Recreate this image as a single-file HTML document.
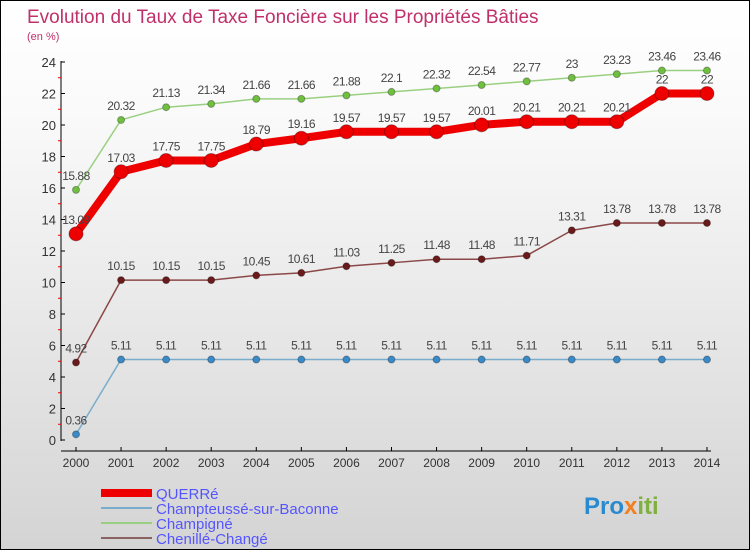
<!DOCTYPE html>
<html><head><meta charset="utf-8"><style>
body{margin:0}
#c{width:748px;height:548px;border:1px solid #000;background:linear-gradient(#fff,#fafafa 20%,#d4d4d4);position:relative;font-family:"Liberation Sans",sans-serif}
</style></head><body>
<div id="c">
<svg width="748" height="548" id="s" style="position:absolute;left:0;top:0">
<text x="26" y="22" font-size="19" fill="#c0306a">Evolution du Taux de Taxe Foncière sur les Propriétés Bâties</text>
<text x="26" y="39" font-size="11" fill="#c0306a">(en %)</text>
<g id="axes"></g><g id="series"></g>
<g font-size="15" fill="#5555ff">
<rect x="100" y="488" width="51" height="8" fill="#e00"/>
<text x="155" y="498">QUERRé</text>
<rect x="100" y="506" width="51" height="2" fill="#7aaccc"/>
<text x="155" y="513">Champteussé-sur-Baconne</text>
<rect x="100" y="521" width="51" height="2" fill="#99d080"/>
<text x="155" y="528">Champigné</text>
<rect x="100" y="536" width="51" height="2" fill="#8b6262"/>
<text x="155" y="543">Chenillé-Changé</text>
</g>
<text x="583" y="513" font-size="24" font-weight="bold"><tspan fill="#2a8ad0">Pro</tspan><tspan fill="#f08020">x</tspan><tspan fill="#80b040">iti</tspan></text>
</svg></div>
<script>
const years=[2000,2001,2002,2003,2004,2005,2006,2007,2008,2009,2010,2011,2012,2013,2014];
const querre=[13.09,17.03,17.75,17.75,18.79,19.16,19.57,19.57,19.57,20.01,20.21,20.21,20.21,22,22];
const champteusse=[0.36,5.11,5.11,5.11,5.11,5.11,5.11,5.11,5.11,5.11,5.11,5.11,5.11,5.11,5.11];
const champigne=[15.88,20.32,21.13,21.34,21.66,21.66,21.88,22.1,22.32,22.54,22.77,23,23.23,23.46,23.46];
const chenille=[4.92,10.15,10.15,10.15,10.45,10.61,11.03,11.25,11.48,11.48,11.71,13.31,13.78,13.78,13.78];
const yTicks=[0,2,4,6,8,10,12,14,16,18,20,22,24];
const NS="http://www.w3.org/2000/svg";
const X=i=>75+i*45.07, Y=v=>439-v*15.75;
function el(t,a,p){const e=document.createElementNS(NS,t);for(const k in a)e.setAttribute(k,a[k]);p.appendChild(e);return e;}
const ax=document.getElementById('axes');
const ya=el('line',{x1:60,y1:60,x2:60,y2:440,stroke:'#000'},ax);


const xa=el('line',{x1:60,y1:450,x2:710,y2:450,stroke:'#000'},ax);


yTicks.forEach(v=>{
 el('line',{x1:60,y1:Y(v),x2:64,y2:Y(v),stroke:'#000'},ax);
 if(v<24) el('line',{x1:57,y1:Y(v+1),x2:60,y2:Y(v+1),stroke:'#e00'},ax);
 const t=el('text',{x:55,y:Y(v)+5,'font-size':13,'text-anchor':'end',fill:'#333'},ax);
 t.textContent=v;
 
 
});
years.forEach((y,i)=>{
 el('line',{x1:X(i),y1:446,x2:X(i),y2:450,stroke:'#000'},ax);
 const t=el('text',{x:X(i),y:466,'font-size':12,'text-anchor':'middle',fill:'#333'},ax);
 t.textContent=y;
 
 
});
const sg=document.getElementById('series');
function draw(name,data,color,w,r,dot){
 const g=el('g',{},sg);
 
 
 const p=el('polyline',{points:data.map((v,i)=>X(i)+','+Y(v)).join(' '),fill:'none',stroke:color,'stroke-width':w,'stroke-linejoin':'round'},g);
 
 
 data.forEach((v,i)=>{
  const c=el('circle',{cx:X(i),cy:Y(v),r:r,fill:dot,stroke:'rgba(0,0,0,0.3)'},g);
  
  
  const t=el('text',{x:X(i),y:Y(v)-10,'font-size':12,'text-anchor':'middle',fill:'#444','letter-spacing':'-0.5'},g);
  t.textContent=v;
  
  
 });
}
draw('champteusse',champteusse,'#7aaccc',1.5,3.5,'#3a8ac8');
draw('chenille',chenille,'#8b4848',1.5,3.5,'#6a1a1a');
draw('champigne',champigne,'#99d080',1.5,3.5,'#70c040');
draw('querre',querre,'#e00',8,7,'#e00');
</script>
</body></html>
